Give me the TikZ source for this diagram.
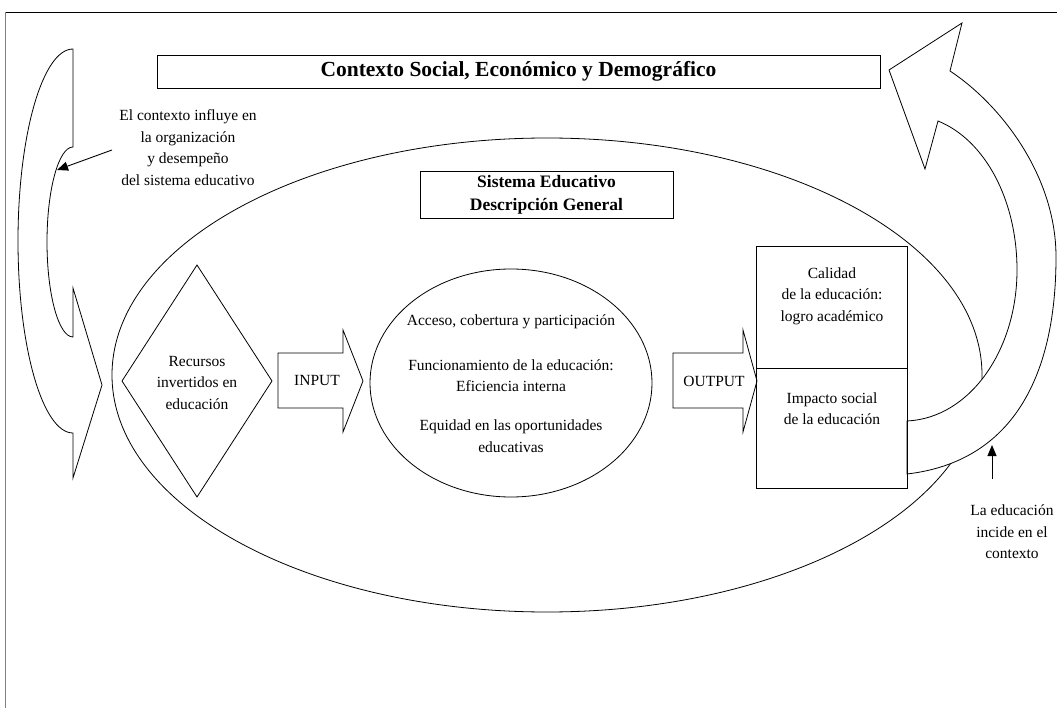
\documentclass[tikz,border=0pt]{standalone}
\usepackage{fontspec}
\setmainfont{Liberation Serif}
\usetikzlibrary{arrows.meta,shapes.geometric}
\begin{document}
\begin{tikzpicture}[x=1pt,y=-1pt,
  txt/.style={font=\fontsize{15.5}{21.5}\selectfont, align=center, inner sep=0pt},
  boxn/.style={draw, line width=0.8pt, inner sep=0pt},
  shp/.style={draw, line width=0.8pt, fill=white, line join=miter},
  ptr/.style={line width=0.9pt, -{Triangle[length=11pt,width=9pt]}}]
\useasboundingbox (0,0) rectangle (1057,708);
% frame
\draw[line width=0.8pt] (5,12) -- (1057,12);
\draw[line width=0.9pt, gray] (5,12) -- (5,708);
% title box
\node[boxn, minimum width=723pt, minimum height=33pt,
      font=\bfseries\fontsize{21.5}{24}\selectfont] (ctx) at (518.5,71.5)
      {Contexto Social, Económico y Demográfico};
% big ellipse
\node[draw, ellipse, line width=0.8pt, minimum width=870pt, minimum height=474pt, inner sep=0pt] (sys) at (547,375) {};
% sistema box
\node[boxn, minimum width=253pt, minimum height=47pt, align=center,
      font=\bfseries\fontsize{17.5}{23}\selectfont] (sis) at (546.5,194.5)
      {Sistema Educativo\\Descripción General};
% diamond
\coordinate (dT) at (197,265);
\coordinate (dR) at (272,381);
\coordinate (dB) at (197,497);
\coordinate (dL) at (122,381);
\draw[shp] (dT) -- (dR) -- (dB) -- (dL) -- cycle;
\node[txt] (res) at (197,383) {Recursos\\invertidos en\\educación};
% input arrow
\draw[shp] (278,353) -- (343,353) -- (343,330) -- (363,381) -- (343,432) -- (343,408) -- (278,408) -- cycle;
\node[txt] (inp) at (317,381) {INPUT};
% process ellipse
\node[draw, ellipse, line width=0.8pt, minimum width=282pt, minimum height=228pt, inner sep=0pt] (proc) at (511,383) {};
\node[txt] (acc) at (511,322) {Acceso, cobertura y participación};
\node[txt] (fun) at (511,375.5) {Funcionamiento de la educación:\\Eficiencia interna};
\node[txt] (equ) at (511,436) {Equidad en las oportunidades\\educativas};
% output arrow
\draw[shp] (673,353) -- (743,353) -- (743,330) -- (757,381) -- (743,432) -- (743,408) -- (673,408) -- cycle;
\node[txt] (out) at (714,381) {OUTPUT};
% right curved arrow
\draw[shp] (950,71) -- (962,23) -- (889,70) -- (925,169) -- (938,121)
  .. controls (985,140) and (1017,200) .. (1017,270)
  .. controls (1017,350) and (970,418) .. (907,421)
  -- (907,474)
  .. controls (1010,462) and (1056,380) .. (1056,257)
  .. controls (1056,175) and (1000,104) .. (950,71) -- cycle;
% result boxes
\node[boxn, minimum width=151pt, minimum height=122pt] (cal) at (831.5,307) {};
\node[boxn, minimum width=151pt, minimum height=120pt] (imp) at (831.5,428) {};
\node[txt] (calt) at (832,296) {Calidad\\de la educación:\\logro académico};
\node[txt] (impt) at (832,408.5) {Impacto social\\de la educación};
% left curved arrow
\draw[shp] (73,49) -- (73,147) arc[start angle=270, end angle=90, x radius=26, y radius=95]
  -- (73,288) -- (102,385) -- (73,478) -- (73,433)
  arc[start angle=90, end angle=270, x radius=55, y radius=192] -- cycle;
% left label and pointer
\node[txt] (lctx) at (188,147.5) {El contexto influye en\\la organización\\y desempeño\\del sistema educativo};
\coordinate (ls) at (112,150);
\coordinate (le) at (57,170);
\draw[ptr] (ls) -- (le);
% right label and pointer
\node[txt] (redu) at (1012,532) {La educación\\incide en el\\contexto};
\coordinate (rs) at (992,479);
\coordinate (re) at (992,445);
\draw[ptr] (rs) -- (re);
\end{tikzpicture}
\end{document}
